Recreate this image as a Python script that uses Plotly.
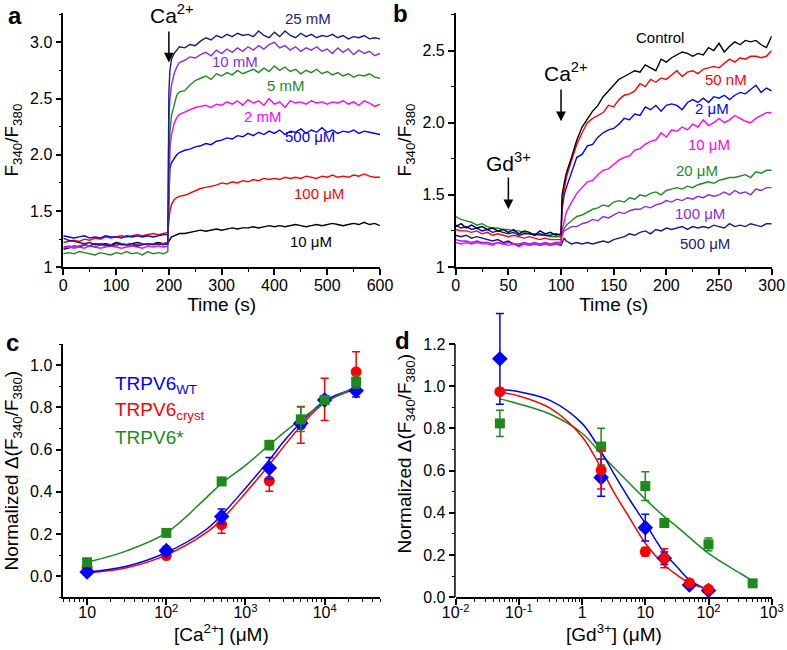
import plotly.graph_objects as go

# ---------------- DATA ----------------
# Panel a: time (s)
ta = [0, 10, 20, 30, 40, 50, 60, 70, 80, 90, 100, 110, 120, 130, 140, 150, 160, 170, 180, 190, 198,
      200, 202, 205, 210, 215, 220,
      230, 240, 250, 260, 270, 280, 290, 300, 310, 320, 330, 340, 350, 360, 370, 380, 390, 400,
      410, 420, 430, 440, 450, 460, 470, 480, 490, 500, 510, 520, 530, 540, 550, 560, 570, 580, 590, 600]

a_25mM = [1.26, 1.24, 1.23, 1.22, 1.21, 1.22, 1.20, 1.21, 1.20, 1.19, 1.21, 1.20, 1.20, 1.21, 1.19, 1.20, 1.21, 1.20, 1.21, 1.20, 1.21,
          2.55, 2.75, 2.85, 2.90, 2.93, 2.96,
          2.95, 2.98, 2.97, 3.01, 3.04, 3.02, 3.06, 3.04, 3.07, 3.05, 3.08, 3.06, 3.07, 3.05, 3.10, 3.06, 3.04, 3.09,
          3.05, 3.10, 3.06, 3.04, 3.08, 3.05, 3.07, 3.04, 3.06, 3.05, 3.07, 3.04, 3.06, 3.03, 3.05, 3.04, 3.06, 3.03, 3.04, 3.03]
a_10mM = [1.18, 1.19, 1.18, 1.19, 1.20, 1.19, 1.18, 1.20, 1.19, 1.20, 1.19, 1.21, 1.20, 1.19, 1.20, 1.21, 1.20, 1.21, 1.20, 1.21, 1.22,
          2.30, 2.50, 2.62, 2.72, 2.78, 2.82,
          2.84, 2.87, 2.86, 2.89, 2.91, 2.88, 2.93, 2.90, 2.94, 2.91, 2.95, 2.92, 2.96, 2.93, 2.97, 2.94, 2.98, 3.00,
          2.95, 2.97, 2.93, 2.96, 2.92, 2.95, 2.93, 2.96, 2.92, 2.94, 2.90, 2.95, 2.91, 2.94, 2.89, 2.93, 2.90, 2.92, 2.88, 2.90]
a_5mM = [1.12, 1.13, 1.12, 1.14, 1.13, 1.12, 1.11, 1.13, 1.12, 1.11, 1.13, 1.12, 1.14, 1.12, 1.13, 1.11, 1.14, 1.12, 1.13, 1.12, 1.14,
         1.90, 2.20, 2.35, 2.45, 2.53, 2.56,
         2.57, 2.62, 2.66, 2.68, 2.70, 2.67, 2.72, 2.70, 2.73, 2.71, 2.75, 2.72, 2.74, 2.76, 2.73, 2.77, 2.74, 2.79,
         2.75, 2.78, 2.74, 2.76, 2.72, 2.75, 2.73, 2.76, 2.72, 2.74, 2.71, 2.73, 2.70, 2.72, 2.69, 2.71, 2.70, 2.72, 2.69, 2.68]
a_2mM = [1.17, 1.18, 1.17, 1.18, 1.17, 1.19, 1.18, 1.17, 1.18, 1.19, 1.18, 1.17, 1.18, 1.19, 1.18, 1.17, 1.19, 1.18, 1.19, 1.18, 1.19,
         1.80, 2.05, 2.18, 2.28, 2.33, 2.36,
         2.38, 2.40, 2.42, 2.43, 2.44, 2.42, 2.45, 2.44, 2.47, 2.45, 2.48, 2.44, 2.49, 2.46, 2.48, 2.44, 2.50, 2.45,
         2.47, 2.42, 2.48, 2.46, 2.47, 2.45, 2.48, 2.46, 2.47, 2.45, 2.47, 2.46, 2.48, 2.45, 2.47, 2.44, 2.48, 2.46, 2.43, 2.45]
a_500uM = [1.28, 1.27, 1.26, 1.27, 1.28, 1.26, 1.27, 1.26, 1.28, 1.27, 1.27, 1.26, 1.28, 1.27, 1.28, 1.27, 1.28, 1.27, 1.28, 1.29, 1.29,
           1.70, 1.88, 1.93, 1.97, 2.00, 2.02,
           2.04, 2.05, 2.07, 2.08, 2.10, 2.09, 2.12, 2.13, 2.15, 2.14, 2.17, 2.16, 2.19, 2.17, 2.20, 2.18, 2.21, 2.19,
           2.22, 2.18, 2.21, 2.20, 2.23, 2.19, 2.22, 2.20, 2.24, 2.20, 2.22, 2.19, 2.21, 2.20, 2.22, 2.19, 2.21, 2.20, 2.19, 2.18]
a_100uM = [1.22, 1.23, 1.24, 1.23, 1.25, 1.24, 1.26, 1.25, 1.27, 1.26, 1.27, 1.28, 1.27, 1.28, 1.29, 1.28, 1.29, 1.30, 1.29, 1.30, 1.31,
           1.40, 1.50, 1.56, 1.60, 1.62, 1.63,
           1.64, 1.66, 1.68, 1.70, 1.71, 1.72, 1.73, 1.75, 1.74, 1.76, 1.75, 1.77, 1.76, 1.78, 1.77, 1.79, 1.78, 1.79,
           1.78, 1.80, 1.79, 1.80, 1.79, 1.81, 1.80, 1.79, 1.81, 1.80, 1.82, 1.80, 1.81, 1.80, 1.82, 1.81, 1.83, 1.81, 1.80, 1.80]
a_10uM = [1.16, 1.17, 1.19, 1.18, 1.20, 1.19, 1.21, 1.20, 1.21, 1.20, 1.22, 1.21, 1.20, 1.21, 1.22, 1.21, 1.20, 1.21, 1.22, 1.21, 1.22,
          1.23, 1.25, 1.27, 1.28, 1.29, 1.30,
          1.30, 1.31, 1.32, 1.33, 1.32, 1.33, 1.34, 1.33, 1.34, 1.35, 1.34, 1.35, 1.35, 1.36, 1.35, 1.36, 1.37, 1.36,
          1.37, 1.36, 1.37, 1.38, 1.37, 1.36, 1.37, 1.38, 1.37, 1.38, 1.39, 1.38, 1.37, 1.38, 1.39, 1.38, 1.40, 1.38, 1.39, 1.37]

a_labels = ["25 mM", "10 mM", "5 mM", "2 mM", "500 μM", "100 μM", "10 μM"]
a_label_t = [464, 325, 422, 378, 467, 484, 469]
a_label_v = [3.21, 2.83, 2.62, 2.34, 2.16, 1.66, 1.225]

# Panel b: time (s)
tb = [0, 5, 10, 15, 20, 25, 30, 35, 40, 45, 50, 55, 60, 65, 70, 75, 80, 85, 90, 95, 100, 101, 103,
      105, 110, 115, 120, 125, 130, 135, 140, 145, 150, 155, 160, 165, 170, 175, 180, 185, 190, 195, 200,
      205, 210, 215, 220, 225, 230, 235, 240, 245, 250, 255, 260, 265, 270, 275, 280, 285, 290, 295, 300]

b_control = [1.28, 1.30, 1.27, 1.29, 1.27, 1.28, 1.26, 1.27, 1.25, 1.26, 1.24, 1.26, 1.23, 1.25, 1.24, 1.22, 1.25, 1.23, 1.24, 1.22, 1.23, 1.50, 1.58,
             1.65, 1.76, 1.88, 1.97, 2.03, 2.08, 2.12, 2.18, 2.22, 2.26, 2.30, 2.32, 2.34, 2.36, 2.35, 2.40, 2.38, 2.36, 2.44, 2.42,
             2.45, 2.47, 2.49, 2.48, 2.46, 2.48, 2.47, 2.52, 2.50, 2.55, 2.49, 2.53, 2.56, 2.54, 2.57, 2.56, 2.57, 2.54, 2.52, 2.60]
b_50nM = [1.26, 1.25, 1.25, 1.24, 1.25, 1.23, 1.24, 1.22, 1.23, 1.22, 1.21, 1.22, 1.21, 1.20, 1.21, 1.20, 1.19, 1.20, 1.19, 1.19, 1.19, 1.45, 1.55,
          1.62, 1.74, 1.85, 1.93, 2.00, 2.03, 2.05, 2.07, 2.12, 2.11, 2.16, 2.19, 2.20, 2.22, 2.27, 2.25, 2.30, 2.28, 2.31, 2.30,
          2.33, 2.36, 2.32, 2.35, 2.36, 2.34, 2.37, 2.38, 2.39, 2.38, 2.41, 2.44, 2.42, 2.45, 2.44, 2.46, 2.46, 2.45, 2.46, 2.50]
b_2uM = [1.29, 1.27, 1.28, 1.26, 1.27, 1.25, 1.26, 1.24, 1.25, 1.24, 1.23, 1.24, 1.22, 1.23, 1.23, 1.22, 1.23, 1.22, 1.22, 1.23, 1.22, 1.40, 1.50,
         1.55, 1.66, 1.76, 1.78, 1.84, 1.85, 1.90, 1.93, 1.95, 1.96, 1.99, 2.03, 2.02, 2.06, 2.05, 2.11, 2.09, 2.12, 2.08, 2.12,
         2.13, 2.12, 2.09, 2.14, 2.16, 2.14, 2.17, 2.14, 2.18, 2.17, 2.19, 2.16, 2.19, 2.21, 2.20, 2.23, 2.26, 2.21, 2.24, 2.22]
b_10uM = [1.17, 1.16, 1.17, 1.16, 1.17, 1.16, 1.16, 1.15, 1.17, 1.16, 1.15, 1.16, 1.14, 1.16, 1.15, 1.16, 1.15, 1.16, 1.15, 1.16, 1.16, 1.25, 1.32,
          1.38, 1.45, 1.51, 1.55, 1.59, 1.60, 1.64, 1.67, 1.68, 1.71, 1.74, 1.76, 1.77, 1.81, 1.82, 1.85, 1.87, 1.88, 1.93, 1.90,
          1.95, 1.94, 1.97, 1.95, 1.99, 1.97, 2.02, 1.98, 2.00, 2.03, 2.00, 2.02, 2.05, 2.03, 2.01, 2.00, 2.03, 2.05, 2.07, 2.07]
b_20uM = [1.35, 1.33, 1.32, 1.31, 1.29, 1.30, 1.28, 1.27, 1.27, 1.26, 1.26, 1.25, 1.25, 1.24, 1.23, 1.23, 1.22, 1.22, 1.21, 1.21, 1.21, 1.24, 1.27,
          1.29, 1.32, 1.35, 1.36, 1.38, 1.40, 1.41, 1.43, 1.42, 1.45, 1.46, 1.45, 1.48, 1.47, 1.50, 1.49, 1.51, 1.52, 1.50, 1.53,
          1.54, 1.55, 1.54, 1.56, 1.55, 1.57, 1.58, 1.59, 1.58, 1.60, 1.61, 1.62, 1.62, 1.63, 1.64, 1.62, 1.66, 1.65, 1.67, 1.67]
b_100uM = [1.19, 1.18, 1.18, 1.17, 1.18, 1.17, 1.17, 1.16, 1.17, 1.16, 1.17, 1.16, 1.16, 1.17, 1.16, 1.17, 1.16, 1.17, 1.16, 1.17, 1.17, 1.22, 1.25,
           1.26, 1.28, 1.28, 1.30, 1.31, 1.33, 1.32, 1.35, 1.34, 1.36, 1.38, 1.37, 1.39, 1.40, 1.40, 1.42, 1.41, 1.43, 1.44, 1.46,
           1.45, 1.47, 1.46, 1.48, 1.47, 1.49, 1.48, 1.50, 1.49, 1.50, 1.52, 1.50, 1.53, 1.51, 1.52, 1.50, 1.54, 1.53, 1.55, 1.55]
b_500uM = [1.22, 1.21, 1.22, 1.20, 1.21, 1.20, 1.19, 1.18, 1.19, 1.17, 1.18, 1.16, 1.15, 1.16, 1.15, 1.16, 1.15, 1.16, 1.15, 1.16, 1.15, 1.17, 1.20,
           1.18, 1.16, 1.17, 1.16, 1.17, 1.16, 1.17, 1.18, 1.17, 1.19, 1.20, 1.21, 1.23, 1.22, 1.24, 1.25, 1.23, 1.26, 1.25, 1.27,
           1.26, 1.27, 1.28, 1.26, 1.28, 1.27, 1.28, 1.27, 1.29, 1.28, 1.27, 1.30, 1.28, 1.29, 1.28, 1.30, 1.29, 1.28, 1.30, 1.30]

b_labels = ["Control", "50 nM", "2 μM", "10 μM", "20 μM", "100 μM", "500 μM"]
b_label_t = [194, 257, 243, 240, 229, 232, 237]
b_label_v = [2.59, 2.30, 2.10, 1.85, 1.67, 1.37, 1.165]

# Panel c: [Ca2+] dose response
c_conc = [10, 100, 500, 2000, 5000, 10000, 25000]
c_wt = [0.02, 0.121, 0.283, 0.512, 0.724, 0.835, 0.879]
c_wt_err = [0.01, 0.02, 0.035, 0.05, 0.02, 0.02, 0.03]
c_cryst = [0.04, 0.098, 0.244, 0.452, 0.717, 0.838, 0.968]
c_cryst_err = [0.01, 0.01, 0.04, 0.05, 0.087, 0.10, 0.095]
c_star = [0.066, 0.205, 0.449, 0.621, 0.743, 0.835, 0.921]
c_star_err = [0.01, 0.01, 0.015, 0.022, 0.058, 0.02, 0.03]

c_fit_x = [10, 31.6, 100, 316, 500, 1000, 2000, 3162, 5000, 10000, 25000]
c_fit_wt = [0.02, 0.047, 0.112, 0.22, 0.29, 0.417, 0.551, 0.646, 0.728, 0.831, 0.89]
c_fit_cryst = [0.015, 0.04, 0.10, 0.205, 0.268, 0.394, 0.528, 0.622, 0.712, 0.822, 0.888]
c_fit_star = [0.066, 0.12, 0.205, 0.37, 0.44, 0.525, 0.622, 0.685, 0.743, 0.822, 0.898]

# Panel d: [Gd3+] dose response
d_conc_wt = [0.05, 2, 10, 20, 50, 100]
d_wt = [1.13, 0.567, 0.33, 0.185, 0.058, 0.032]
d_wt_err = [0.215, 0.088, 0.063, 0.03, 0.01, 0.01]
d_conc_cryst = [0.05, 2, 10, 20, 50, 100]
d_cryst = [0.974, 0.603, 0.216, 0.185, 0.068, 0.038]
d_cryst_err = [0.01, 0.09, 0.02, 0.045, 0.01, 0.01]
d_conc_star = [0.05, 2, 10, 20, 100, 500]
d_star = [0.824, 0.714, 0.527, 0.352, 0.251, 0.066]
d_star_err = [0.062, 0.087, 0.068, 0.01, 0.03, 0.01]

d_fit_x = [0.05, 0.1, 0.316, 1, 2, 3.16, 5.7, 10, 20, 31.6, 50, 100]
d_fit_wt = [0.985, 0.974, 0.932, 0.824, 0.69, 0.587, 0.461, 0.35, 0.21, 0.145, 0.082, 0.035]
d_fit_cryst = [0.971, 0.954, 0.895, 0.761, 0.611, 0.50, 0.374, 0.256, 0.153, 0.106, 0.069, 0.038]
d_fit_star_x = [0.05, 0.1, 0.316, 1, 2, 3.16, 10, 20, 31.6, 100, 316, 500]
d_fit_star = [0.94, 0.916, 0.867, 0.777, 0.679, 0.616, 0.465, 0.382, 0.335, 0.208, 0.114, 0.078]

# ---------------- STYLE ----------------
W, H = 787, 650
FONT = "Arial, 'Liberation Sans', Helvetica, sans-serif"
NAVY, PURPLE, GREEN, MAGENTA, BLUE, RED, BLACK = "#1a1a85", "#8a2be2", "#1e8a1e", "#ff00ff", "#0000ff", "#ff0000", "#000000"


def fx(p):
    return p / W


def fy(p):
    return 1 - p / H


fig = go.Figure()

# Panel a traces
a_series = [a_10uM, a_100uM, a_500uM, a_2mM, a_5mM, a_10mM, a_25mM]
a_colors = [BLACK, RED, BLUE, MAGENTA, GREEN, PURPLE, NAVY]
for ys, col in zip(a_series, a_colors):
    fig.add_trace(go.Scatter(x=ta, y=ys, mode="lines", line=dict(color=col, width=1.4),
                             xaxis="x", yaxis="y", showlegend=False))

# Panel b traces
b_series = [b_500uM, b_100uM, b_20uM, b_10uM, b_2uM, b_50nM, b_control]
b_colors = [NAVY, PURPLE, GREEN, MAGENTA, BLUE, RED, BLACK]
for ys, col in zip(b_series, b_colors):
    fig.add_trace(go.Scatter(x=tb, y=ys, mode="lines", line=dict(color=col, width=1.4),
                             xaxis="x2", yaxis="y2", showlegend=False))

# Panel c fits
for ys, col in [(c_fit_cryst, RED), (c_fit_wt, BLUE), (c_fit_star, GREEN)]:
    fig.add_trace(go.Scatter(x=c_fit_x, y=ys, mode="lines", line=dict(color=col, width=1.5, shape="spline"),
                             xaxis="x3", yaxis="y3", showlegend=False))
# Panel c points
for ys, err, col, sym, sz in [(c_cryst, c_cryst_err, RED, "circle", 11),
                              (c_wt, c_wt_err, BLUE, "diamond", 12),
                              (c_star, c_star_err, GREEN, "square", 10)]:
    fig.add_trace(go.Scatter(x=c_conc, y=ys, mode="markers",
                             marker=dict(color=col, symbol=sym, size=sz),
                             error_y=dict(type="data", array=err, color=col, thickness=1.5, width=4),
                             xaxis="x3", yaxis="y3", showlegend=False, cliponaxis=False))

# Panel d fits
fig.add_trace(go.Scatter(x=d_fit_star_x, y=d_fit_star, mode="lines", line=dict(color=GREEN, width=1.5, shape="spline"),
                         xaxis="x4", yaxis="y4", showlegend=False))
fig.add_trace(go.Scatter(x=d_fit_x, y=d_fit_wt, mode="lines", line=dict(color=BLUE, width=1.5, shape="spline"),
                         xaxis="x4", yaxis="y4", showlegend=False))
fig.add_trace(go.Scatter(x=d_fit_x, y=d_fit_cryst, mode="lines", line=dict(color=RED, width=1.5, shape="spline"),
                         xaxis="x4", yaxis="y4", showlegend=False))
# Panel d points
for xs, ys, err, col, sym, sz in [(d_conc_star, d_star, d_star_err, GREEN, "square", 10),
                                  (d_conc_wt, d_wt, d_wt_err, BLUE, "diamond", 12),
                                  (d_conc_cryst, d_cryst, d_cryst_err, RED, "circle", 11)]:
    fig.add_trace(go.Scatter(x=xs, y=ys, mode="markers",
                             marker=dict(color=col, symbol=sym, size=sz),
                             error_y=dict(type="data", array=err, color=col, thickness=1.5, width=4),
                             xaxis="x4", yaxis="y4", showlegend=False, cliponaxis=False))

# ---------------- AXES ----------------
TICKFONT = dict(family=FONT, size=16, color="black")
TITLEFONT = dict(family=FONT, size=19, color="black")
base = dict(showgrid=False, zeroline=False, showline=True, linecolor="black", linewidth=1.5,
            ticks="outside", ticklen=6, tickwidth=1.5, tickcolor="black", tickfont=TICKFONT,
            automargin=False)
minor_base = dict(ticks="outside", ticklen=3, tickwidth=1.2, tickcolor="black", showgrid=False)

ylab_ratio = "F<sub>340</sub>/F<sub>380</sub>"
ylab_norm = "Normalized Δ(F<sub>340</sub>/F<sub>380</sub>)"
ratio_ticks = [1, 1.5, 2, 2.5, 3]
ratio_text = ["1", "1.5", "2.0", "2.5", "3.0"]

c_major = [10, 100, 1000, 10000]
c_major_text = ["10", "10<sup>2</sup>", "10<sup>3</sup>", "10<sup>4</sup>"]
c_minor = [k * 10 ** e for e in range(0, 5) for k in range(2, 10) if 5 <= k * 10 ** e <= 50000]
d_major = [0.01, 0.1, 1, 10, 100, 1000]
d_major_text = ["10<sup>-2</sup>", "10<sup>-1</sup>", "1", "10", "10<sup>2</sup>", "10<sup>3</sup>"]
d_minor = [k * 10.0 ** e for e in range(-2, 3) for k in range(2, 10)]
norm_c_ticks = [0, 0.2, 0.4, 0.6, 0.8, 1.0]
norm_d_ticks = [0, 0.2, 0.4, 0.6, 0.8, 1.0, 1.2]
norm_d_minor = [0.1, 0.3, 0.5, 0.7, 0.9, 1.1]

# panel d: y range extended above 1.2 so the tall error bar shows; axis line drawn only up to 1.2
D_YTOP = 1.36
D_PX_PER_UNIT = (597.3 - 344) / 1.2
d_dom_top = 597.3 - D_YTOP * D_PX_PER_UNIT

fig.update_layout(
    width=W, height=H, margin=dict(l=0, r=0, t=0, b=0, autoexpand=False),
    paper_bgcolor="white", plot_bgcolor="white",
    font=dict(family=FONT, color="black"),
    xaxis=dict(base, domain=[fx(63.3), fx(380)], range=[0, 600], anchor="y",
               tickvals=[0, 100, 200, 300, 400, 500, 600], ticklabelstandoff=-3,
               minor=dict(minor_base, tickmode="linear", tick0=0, dtick=50),
               title=dict(text="Time (s)", font=TITLEFONT, standoff=4)),
    yaxis=dict(base, domain=[fy(267.3), fy(13)], range=[1, 3.26], anchor="x",
               tickvals=ratio_ticks, ticktext=ratio_text,
               minor=dict(minor_base, tickmode="linear", tick0=1, dtick=0.25),
               title=dict(text=ylab_ratio, font=TITLEFONT, standoff=6)),
    xaxis2=dict(base, domain=[fx(455.7), fx(771.7)], range=[0, 300], anchor="y2",
                tickvals=[0, 50, 100, 150, 200, 250, 300], ticklabelstandoff=-3,
                minor=dict(minor_base, tickmode="linear", tick0=0, dtick=25),
                title=dict(text="Time (s)", font=TITLEFONT, standoff=4)),
    yaxis2=dict(base, domain=[fy(267), fy(13)], range=[1, 2.76], anchor="x2",
                tickvals=ratio_ticks[:4], ticktext=ratio_text[:4],
                minor=dict(minor_base, tickmode="linear", tick0=1, dtick=0.25),
                title=dict(text=ylab_ratio, font=TITLEFONT, standoff=6)),
    xaxis3=dict(base, type="log", domain=[fx(63.3), fx(380)], range=[0.699, 4.699], anchor="y3",
                tickvals=c_major, ticktext=c_major_text, ticklabelstandoff=-6,
                minor=dict(minor_base, tickmode="array", tickvals=c_minor)),
    yaxis3=dict(base, domain=[fy(597.3), fy(344)], range=[-0.1, 1.1], anchor="x3",
                tickvals=norm_c_ticks, ticktext=[f"{v:.1f}" for v in norm_c_ticks],
                minor=dict(minor_base, tickmode="linear", tick0=0, dtick=0.1),
                title=dict(text=ylab_norm, font=TITLEFONT, standoff=6)),
    xaxis4=dict(base, type="log", domain=[fx(455.7), fx(771.7)], range=[-2, 3], anchor="y4",
                tickvals=d_major, ticktext=d_major_text, ticklabelstandoff=-6,
                minor=dict(minor_base, tickmode="array", tickvals=d_minor)),
    yaxis4=dict(base, domain=[fy(597.3), fy(d_dom_top)], range=[0, D_YTOP], anchor="x4", showline=False,
                tickvals=norm_d_ticks, ticktext=[f"{v:.1f}" for v in norm_d_ticks],
                minor=dict(minor_base, tickmode="array", tickvals=norm_d_minor),
                title=dict(text=ylab_norm, font=TITLEFONT, standoff=6)),
)

# y axis line of panel d (0 .. 1.2 only)
fig.add_shape(type="line", xref="paper", yref="y4", x0=fx(455.7) - 0.75 / W, x1=fx(455.7) - 0.75 / W,
              y0=0, y1=norm_d_ticks[-1], line=dict(color="black", width=1.5))

# ---------------- ANNOTATIONS ----------------
ann = []
# panel letters
for letter, px, py in [("a", 15, 15), ("b", 401, 14), ("c", 12, 342), ("d", 402, 340)]:
    ann.append(dict(text=f"<b>{letter}</b>", x=fx(px), y=fy(py), xref="paper", yref="paper",
                    showarrow=False, font=dict(family=FONT, size=24, color="black"),
                    xanchor="center", yanchor="middle"))
# x-axis titles for the dose-response panels
for txt, px in [("[Ca<sup>2+</sup>] (μM)", 221.6), ("[Gd<sup>3+</sup>] (μM)", 613.7)]:
    ann.append(dict(text=txt, x=fx(px), y=fy(633), xref="paper", yref="paper", showarrow=False,
                    font=TITLEFONT, xanchor="center", yanchor="middle"))
# series labels panel a
for txt, t, v, col in zip(a_labels, a_label_t, a_label_v, [NAVY, PURPLE, GREEN, MAGENTA, BLUE, RED, BLACK]):
    ann.append(dict(text=txt, x=t, y=v, xref="x", yref="y", showarrow=False,
                    font=dict(family=FONT, size=15, color=col), xanchor="center", yanchor="middle"))
# series labels panel b
for txt, t, v, col in zip(b_labels, b_label_t, b_label_v, [BLACK, RED, BLUE, MAGENTA, GREEN, PURPLE, NAVY]):
    ann.append(dict(text=txt, x=t, y=v, xref="x2", yref="y2", showarrow=False,
                    font=dict(family=FONT, size=15, color=col), xanchor="center", yanchor="middle"))

ARROWFONT = dict(family=FONT, size=21, color="black")
# Ca2+ arrow panel a
ann.append(dict(text="Ca<sup>2+</sup>", x=206, y=3.25, xref="x", yref="y", showarrow=False,
                font=ARROWFONT, xanchor="center", yanchor="middle"))
ann.append(dict(text="", x=200, y=2.82, ax=200, ay=3.11, xref="x", yref="y", axref="x", ayref="y",
                showarrow=True, arrowhead=2, arrowsize=1.3, arrowwidth=1.5, arrowcolor="black"))
# Ca2+ and Gd3+ arrows panel b
ann.append(dict(text="Ca<sup>2+</sup>", x=105, y=2.35, xref="x2", yref="y2", showarrow=False,
                font=ARROWFONT, xanchor="center", yanchor="middle"))
ann.append(dict(text="", x=100, y=2.01, ax=100, ay=2.24, xref="x2", yref="y2", axref="x2", ayref="y2",
                showarrow=True, arrowhead=2, arrowsize=1.3, arrowwidth=1.5, arrowcolor="black"))
ann.append(dict(text="Gd<sup>3+</sup>", x=50, y=1.73, xref="x2", yref="y2", showarrow=False,
                font=ARROWFONT, xanchor="center", yanchor="middle"))
ann.append(dict(text="", x=50, y=1.40, ax=50, ay=1.63, xref="x2", yref="y2", axref="x2", ayref="y2",
                showarrow=True, arrowhead=2, arrowsize=1.3, arrowwidth=1.5, arrowcolor="black"))
# legend panel c
for txt, py, col in [("TRPV6<sub>WT</sub>", 385, BLUE), ("TRPV6<sub>cryst</sub>", 411, RED), ("TRPV6*", 437, GREEN)]:
    ann.append(dict(text=txt, x=fx(113), y=fy(py), xref="paper", yref="paper", showarrow=False,
                    font=dict(family=FONT, size=19, color=col), xanchor="left", yanchor="middle"))

fig.update_layout(annotations=ann)
fig.write_html("out.html", config={"displayModeBar": False},
               post_script="document.body.style.margin='0px';document.body.style.padding='0px';")
